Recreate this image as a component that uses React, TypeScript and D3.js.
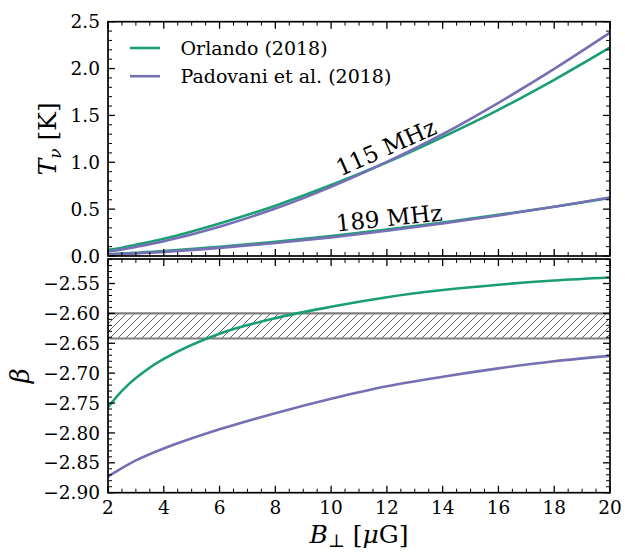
import React from "react";
import * as d3 from "d3";

const B = [2, 2.5, 3, 4, 6, 8, 10, 12, 14, 16, 18, 20];
const orlando115 = [0.065, 0.089, 0.12, 0.183, 0.347, 0.537, 0.757, 1.0, 1.27, 1.56, 1.88, 2.225];
const padovani115 = [0.049, 0.071, 0.097, 0.157, 0.313, 0.506, 0.738, 1.004, 1.3, 1.635, 1.997, 2.383];
const orlando189 = [0.018, 0.026, 0.034, 0.052, 0.098, 0.152, 0.213, 0.283, 0.357, 0.439, 0.526, 0.62];
const padovani189 = [0.014, 0.02, 0.028, 0.044, 0.087, 0.139, 0.199, 0.269, 0.346, 0.432, 0.525, 0.625];
const orlandoBeta = [-2.757, -2.7295, -2.708, -2.676, -2.634, -2.608, -2.589, -2.573, -2.561, -2.552, -2.545, -2.54];
const padovaniBeta = [-2.873, -2.859, -2.846, -2.826, -2.794, -2.767, -2.743, -2.722, -2.706, -2.692, -2.68, -2.671];
const bandLow = -2.642;
const bandHigh = -2.6;

const xMajor = [2, 4, 6, 8, 10, 12, 14, 16, 18, 20];
const topMajor = [0, 0.5, 1.0, 1.5, 2.0, 2.5];
const botMajor = [-2.9, -2.85, -2.8, -2.75, -2.7, -2.65, -2.6, -2.55];

const seriesNames = ["Orlando (2018)", "Padovani et al. (2018)"];
const colors = ["#1b9e77", "#7570b3"];

const FONT = "'DejaVu Serif', serif";

export default function App() {
  const L = 108, R = 610;
  const topT = 21.7, topB = 256;
  const botT = 259, botB = 492.7;
  const x = d3.scaleLinear().domain([2, 20]).range([L, R]);
  const yTop = d3.scaleLinear().domain([0, 2.5]).range([topB, topT]);
  const yBot = d3.scaleLinear().domain([-2.9, -2.509]).range([botB, botT]);

  const xMinor = d3.range(2, 20.001, 0.5).filter((v) => Math.abs(v / 2 - Math.round(v / 2)) > 1e-6);
  const topMinor = d3.range(0, 2.5001, 0.1).filter((v) => Math.abs(v / 0.5 - Math.round(v / 0.5)) > 1e-6);
  const botMinor = d3.range(-2.9, -2.5, 0.01).filter((v) => Math.abs(v / 0.05 - Math.round(v / 0.05)) > 1e-4 && v < -2.509);

  const curve = d3.curveCatmullRom.alpha(0.5);
  const lineTop = (vals: number[]) =>
    d3.line<number>().x((_, i) => x(B[i])).y((d) => yTop(d)).curve(curve)(vals) || "";
  const lineBot = (vals: number[]) =>
    d3.line<number>().x((_, i) => x(B[i])).y((d) => yBot(d)).curve(curve)(vals) || "";

  const fmtTop = d3.format(".1f");
  const fmtBot = d3.format(".2f");

  const majLen = 7, minLen = 4;
  const tickStroke = "#000";

  const ticks = (top: number, bottom: number, yScale: any, yMaj: number[], yMin: number[]) => {
    const els: any[] = [];
    xMajor.forEach((v, i) => {
      els.push(<line key={`xb${i}`} x1={x(v)} x2={x(v)} y1={bottom} y2={bottom - majLen} stroke={tickStroke} strokeWidth={1.3} />);
      els.push(<line key={`xt${i}`} x1={x(v)} x2={x(v)} y1={top} y2={top + majLen} stroke={tickStroke} strokeWidth={1.3} />);
    });
    xMinor.forEach((v, i) => {
      els.push(<line key={`xmb${i}`} x1={x(v)} x2={x(v)} y1={bottom} y2={bottom - minLen} stroke={tickStroke} strokeWidth={1} />);
      els.push(<line key={`xmt${i}`} x1={x(v)} x2={x(v)} y1={top} y2={top + minLen} stroke={tickStroke} strokeWidth={1} />);
    });
    yMaj.forEach((v, i) => {
      els.push(<line key={`yl${i}`} x1={L} x2={L + majLen} y1={yScale(v)} y2={yScale(v)} stroke={tickStroke} strokeWidth={1.3} />);
      els.push(<line key={`yr${i}`} x1={R} x2={R - majLen} y1={yScale(v)} y2={yScale(v)} stroke={tickStroke} strokeWidth={1.3} />);
    });
    yMin.forEach((v, i) => {
      els.push(<line key={`yml${i}`} x1={L} x2={L + minLen} y1={yScale(v)} y2={yScale(v)} stroke={tickStroke} strokeWidth={1} />);
      els.push(<line key={`ymr${i}`} x1={R} x2={R - minLen} y1={yScale(v)} y2={yScale(v)} stroke={tickStroke} strokeWidth={1} />);
    });
    return els;
  };

  const hs = 8;

  return (
    <svg width={625} height={552} style={{ position: "absolute", left: 0, top: 0, background: "#fff" }} fontFamily={FONT}>
      <defs>
        <clipPath id="clipTop">
          <rect x={L} y={topT} width={R - L} height={topB - topT} />
        </clipPath>
        <clipPath id="clipBot">
          <rect x={L} y={botT} width={R - L} height={botB - botT} />
        </clipPath>
        <pattern id="hatch" patternUnits="userSpaceOnUse" width={hs} height={hs}>
          <path d={`M0,${hs} L${hs},0 M${-1},1 L1,${-1} M${hs - 1},${hs + 1} L${hs + 1},${hs - 1}`} stroke="#606060" strokeWidth={1} />
        </pattern>
      </defs>
      <rect width={625} height={552} fill="#fff" />

      {/* Top panel */}
      <g clipPath="url(#clipTop)">
        <path d={lineTop(orlando189)} fill="none" stroke={colors[0]} strokeWidth={2.6} />
        <path d={lineTop(padovani189)} fill="none" stroke={colors[1]} strokeWidth={2.6} />
        <path d={lineTop(orlando115)} fill="none" stroke={colors[0]} strokeWidth={2.6} />
        <path d={lineTop(padovani115)} fill="none" stroke={colors[1]} strokeWidth={2.6} />
      </g>
      {ticks(topT, topB, yTop, topMajor, topMinor)}
      <rect x={L} y={topT} width={R - L} height={topB - topT} fill="none" stroke="#000" strokeWidth={1.7} />
      {topMajor.map((v, i) => (
        <text key={`tl${i}`} x={L - 8} y={yTop(v)} dy="0.36em" textAnchor="end" fontSize={18.5}>
          {fmtTop(v)}
        </text>
      ))}
      <text x={386} y={147.5} textAnchor="middle" dominantBaseline="central" fontSize={23} transform="rotate(-24 386 147.5)">
        115 MHz
      </text>
      <text x={389} y={218} textAnchor="middle" dominantBaseline="central" fontSize={23} transform="rotate(-6 389 218)">
        189 MHz
      </text>
      {seriesNames.map((n, i) => (
        <g key={`lg${i}`}>
          <line x1={130} x2={160} y1={48 + i * 28.2} y2={48 + i * 28.2} stroke={colors[i]} strokeWidth={2.6} />
          <text x={180.5} y={55 + i * 28.2} fontSize={19}>
            {n}
          </text>
        </g>
      ))}
      <text transform={`translate(56, ${(topT + topB) / 2}) rotate(-90)`} textAnchor="middle" fontSize={25}>
        <tspan fontStyle="italic">T</tspan>
        <tspan fontStyle="italic" fontSize={17} dy={5}>ν</tspan>
        <tspan dy={-5}> [K]</tspan>
      </text>

      {/* Bottom panel */}
      <rect x={L} y={yBot(bandHigh)} width={R - L} height={yBot(bandLow) - yBot(bandHigh)} fill="url(#hatch)" />
      <line x1={L} x2={R} y1={yBot(bandHigh)} y2={yBot(bandHigh)} stroke="#808080" strokeWidth={2.2} />
      <line x1={L} x2={R} y1={yBot(bandLow)} y2={yBot(bandLow)} stroke="#808080" strokeWidth={2.2} />
      <g clipPath="url(#clipBot)">
        <path d={lineBot(orlandoBeta)} fill="none" stroke={colors[0]} strokeWidth={2.6} />
        <path d={lineBot(padovaniBeta)} fill="none" stroke={colors[1]} strokeWidth={2.6} />
      </g>
      {ticks(botT, botB, yBot, botMajor, botMinor)}
      <rect x={L} y={botT} width={R - L} height={botB - botT} fill="none" stroke="#000" strokeWidth={1.7} />
      {botMajor.map((v, i) => (
        <text key={`bl${i}`} x={L - 8} y={yBot(v)} dy="0.36em" textAnchor="end" fontSize={18.5}>
          {fmtBot(v)}
        </text>
      ))}
      {xMajor.map((v, i) => (
        <text key={`xl${i}`} x={x(v)} y={513.5} textAnchor="middle" fontSize={18.5}>
          {String(v)}
        </text>
      ))}
      <text transform={`translate(29, ${(botT + botB) / 2}) rotate(-90)`} textAnchor="middle" fontSize={26} fontStyle="italic">
        β
      </text>
      <text x={(L + R) / 2} y={543} textAnchor="middle" fontSize={25}>
        <tspan fontStyle="italic">B</tspan>
        <tspan fontSize={18} dy={4}>⊥</tspan>
        <tspan dy={-4}> [</tspan>
        <tspan fontStyle="italic">μ</tspan>
        <tspan>G]</tspan>
      </text>
    </svg>
  );
}
